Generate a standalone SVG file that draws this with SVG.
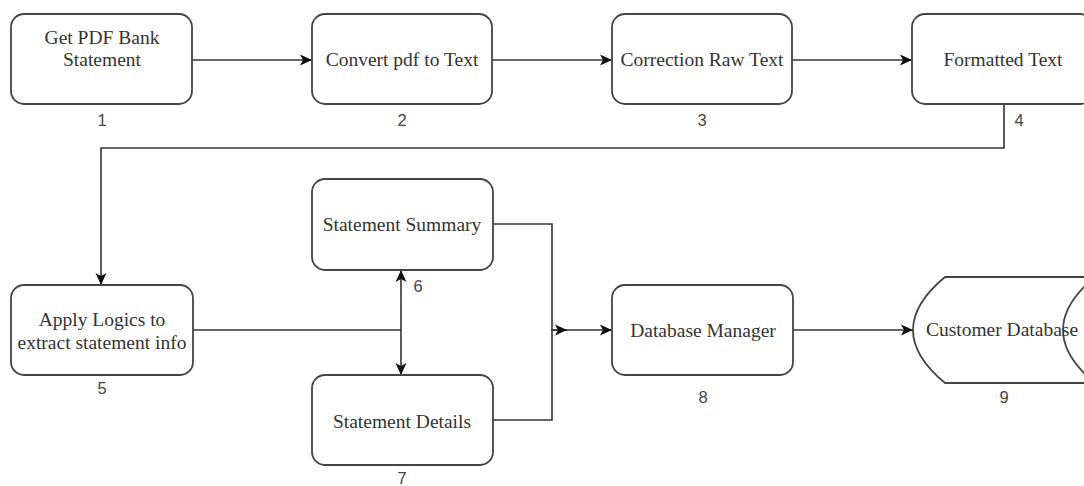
<svg xmlns="http://www.w3.org/2000/svg" width="1084" height="486" viewBox="0 0 1084 486">
<style>
.box{fill:#fff;stroke:#444;stroke-width:1.8}
.t{font-family:"Liberation Serif","Times New Roman",serif;font-size:19.5px;fill:#333;text-anchor:middle}
.n{font-family:"Liberation Sans",Arial,sans-serif;font-size:16.5px;fill:#444;text-anchor:middle}
.c{fill:none;stroke:#333;stroke-width:1.6}
</style>
<defs>
<marker id="ah" viewBox="0 0 12 12" refX="12" refY="6" markerWidth="12" markerHeight="12" markerUnits="userSpaceOnUse" orient="auto">
<path d="M0,0.5 L12,6 L0,11.5 L3,6 Z" fill="#111"/>
</marker>
</defs>
<rect width="1084" height="486" fill="#fff"/>
<g id="connectors">
<path class="c" d="M192,60 H312" marker-end="url(#ah)"/>
<path class="c" d="M492,60 H612" marker-end="url(#ah)"/>
<path class="c" d="M792,60 H912" marker-end="url(#ah)"/>
<path class="c" d="M1004,104 V148 H101 V285" marker-end="url(#ah)"/>
<path class="c" d="M193,330 H401"/>
<path class="c" d="M401,330 V270" marker-end="url(#ah)"/>
<path class="c" d="M401,330 V375" marker-end="url(#ah)"/>
<path class="c" d="M493,224 H552 V330 H612" marker-end="url(#ah)"/>
<path class="c" d="M493,420 H552 V330 H567" marker-end="url(#ah)"/>
<path class="c" d="M793,330 H913" marker-end="url(#ah)"/>
</g>
<g id="node1">
<rect class="box" x="11" y="14" width="181" height="90" rx="13"/>
<text class="t" x="102" y="44">Get PDF Bank</text>
<text class="t" x="102" y="66">Statement</text>
<text class="n" x="102" y="126">1</text>
</g>
<g id="node2">
<rect class="box" x="312" y="14" width="180" height="90" rx="13"/>
<text class="t" x="402" y="66">Convert pdf to Text</text>
<text class="n" x="402" y="126">2</text>
</g>
<g id="node3">
<rect class="box" x="612" y="14" width="180" height="90" rx="13"/>
<text class="t" x="702" y="66">Correction Raw Text</text>
<text class="n" x="702" y="126">3</text>
</g>
<g id="node4">
<rect class="box" x="912" y="14" width="181" height="90" rx="13"/>
<text class="t" x="1003" y="66">Formatted Text</text>
<text class="n" x="1019" y="126">4</text>
</g>
<g id="node5">
<rect class="box" x="11" y="285" width="182" height="90" rx="13"/>
<text class="t" x="102" y="326">Apply Logics to</text>
<text class="t" x="102" y="349">extract statement info</text>
<text class="n" x="102" y="394">5</text>
</g>
<g id="node6">
<rect class="box" x="312" y="179" width="181" height="91" rx="13"/>
<text class="t" x="402" y="231">Statement Summary</text>
<text class="n" x="418" y="292">6</text>
</g>
<g id="node7">
<rect class="box" x="312" y="375" width="181" height="90" rx="13"/>
<text class="t" x="402" y="428">Statement Details</text>
<text class="n" x="402" y="484">7</text>
</g>
<g id="node8">
<rect class="box" x="612" y="285" width="181" height="90" rx="13"/>
<text class="t" x="703" y="337">Database Manager</text>
<text class="n" x="703" y="403">8</text>
</g>
<g id="node9">
<path class="box" d="M945,277 H1095 Q1031,330 1095,383 H945 Q881,330 945,277 Z"/>
<text class="t" x="1002" y="336">Customer Database</text>
<text class="n" x="1004" y="403">9</text>
</g>
</svg>
